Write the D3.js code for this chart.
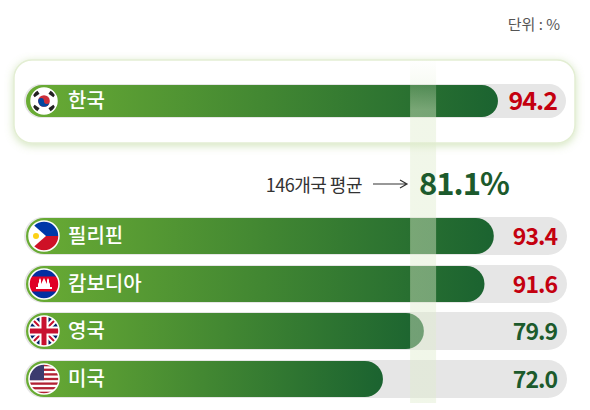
<!DOCTYPE html>
<html><head><meta charset="utf-8">
<script src="https://cdn.jsdelivr.net/npm/d3@7"></script>
<style>body{margin:0;background:#fff}text{font-family:"Noto Sans CJK KR","Noto Sans",sans-serif}</style>
</head><body><svg id="c" width="590" height="410"></svg>
<script>
const countries=["한국","필리핀","캄보디아","영국","미국"];
const values=[94.2,93.4,91.6,79.9,72.0];
const flags=["kr","ph","kh","gb","us"];
const average=81.1;
const avgLabel="146개국 평균";
const unitLabel="단위 : %";

const svg=d3.select("#c");
const x=d3.scaleLinear().domain([0,100]).range([10,528]);
const y=d3.scaleOrdinal().domain(countries).range([101,236,284,331,379]);
const defs=svg.append("defs");
const g=defs.append("linearGradient").attr("id","bar");
g.append("stop").attr("offset","0").attr("stop-color","#6aac34");
g.append("stop").attr("offset","1").attr("stop-color","#1b6330");
const bg=defs.append("linearGradient").attr("id","band").attr("x1",0).attr("x2",0).attr("y1",0).attr("y2",1);
bg.append("stop").attr("offset","0").attr("stop-color","#dfeccd").attr("stop-opacity",0);
bg.append("stop").attr("offset","0.15").attr("stop-color","#dfeccd").attr("stop-opacity",0.8);
bg.append("stop").attr("offset","1").attr("stop-color","#dfeccd").attr("stop-opacity",0.8);
const bh=defs.append("linearGradient").attr("id","bandh");
bh.append("stop").attr("offset","0").attr("stop-color","#fff").attr("stop-opacity",1);
bh.append("stop").attr("offset","1").attr("stop-color","#fff").attr("stop-opacity",0);
const f=defs.append("filter").attr("id","glow").attr("x","-10%").attr("y","-30%").attr("width","120%").attr("height","160%");
f.append("feDropShadow").attr("dx",0).attr("dy",2).attr("stdDeviation",4).attr("flood-color","#9cc36a").attr("flood-opacity",0.45);

svg.append("text").attr("x",560).attr("y",30).attr("text-anchor","end").attr("font-size",15).attr("fill","#555").text(unitLabel);

// highlight box
svg.append("rect").attr("x",14).attr("y",60).attr("width",561).attr("height",83).attr("rx",18)
 .attr("fill","#fff").attr("stroke","#e3eed3").attr("stroke-width",1.5).attr("filter","url(#glow)");

const rows=countries.map((c,i)=>({c,v:values[i],f:flags[i],top:i==0}));
const H=d=>d.top?34:38;
const trackX=d=>d.top?24:24, trackW=d=>d.top?542:543;

svg.selectAll(".track").data(rows).join("rect").attr("x",trackX).attr("width",trackW)
 .attr("y",d=>y(d.c)-H(d)/2).attr("height",H).attr("rx",d=>H(d)/2).attr("fill","#e6e6e6");
svg.selectAll(".bar").data(rows).join("rect").attr("x",26).attr("width",d=>x(d.v)-26)
 .attr("y",d=>y(d.c)-H(d)/2+1).attr("height",d=>H(d)-2).attr("rx",d=>(H(d)-2)/2).attr("fill","url(#bar)");

// average band
const ax=x(average)-20;
svg.append("rect").attr("x",ax).attr("y",58).attr("width",26).attr("height",345).attr("fill","url(#band)").attr("opacity",0.55);

// flags
rows.forEach((d,i)=>{
 const cx=44,cy=y(d.c),r=d.top?13:15;
 defs.append("clipPath").attr("id","cl"+i).append("circle").attr("cx",cx).attr("cy",cy).attr("r",r);
 const fg=svg.append("g").attr("clip-path","url(#cl"+i+")");
 const L=cx-r,T=cy-r,W=2*r;
 if(d.f=="kr"){
  fg.append("rect").attr("x",L).attr("y",T).attr("width",W).attr("height",W).attr("fill","#fff");
  fg.append("circle").attr("cx",cx).attr("cy",cy).attr("r",r*0.45).attr("fill","#cd2e3a");
  fg.append("path").attr("d",`M${cx-r*0.45},${cy} A${r*0.45},${r*0.45} 0 0 0 ${cx+r*0.45},${cy} A${r*0.225},${r*0.225} 0 0 1 ${cx},${cy} A${r*0.225},${r*0.225} 0 0 0 ${cx-r*0.45},${cy}Z`).attr("fill","#0047a0");
  [[-1,-1],[1,-1],[-1,1],[1,1]].forEach(([sx,sy])=>fg.append("rect").attr("x",cx+sx*r*0.62-3).attr("y",cy+sy*r*0.55-2).attr("width",6).attr("height",4).attr("fill","#222").attr("transform",`rotate(${sx*sy*-35},${cx+sx*r*0.62},${cy+sy*r*0.55})`));
 } else if(d.f=="ph"){
  fg.append("rect").attr("x",L).attr("y",T).attr("width",W).attr("height",r).attr("fill","#0038a8");
  fg.append("rect").attr("x",L).attr("y",cy).attr("width",W).attr("height",r).attr("fill","#ce1126");
  fg.append("path").attr("d",`M${L},${T} L${cx+2},${cy} L${L},${T+W}Z`).attr("fill","#fff");
  fg.append("circle").attr("cx",L+7).attr("cy",cy).attr("r",3).attr("fill","#fcd116");
 } else if(d.f=="kh"){
  fg.append("rect").attr("x",L).attr("y",T).attr("width",W).attr("height",W).attr("fill","#032ea1");
  fg.append("rect").attr("x",L).attr("y",T+W*0.25).attr("width",W).attr("height",W*0.5).attr("fill","#e00025");
  fg.append("path").attr("d",`M${cx-8},${cy+5}h16v-2h-2v-3l-1-2v-2l-1-2l-1 2v2l-1 2v-2l-2-4l-2 4v2l-1-2v-2l-1-2l-1 2v2l-1 2v3h-2z`).attr("fill","#fff");
 } else if(d.f=="gb"){
  fg.append("rect").attr("x",L).attr("y",T).attr("width",W).attr("height",W).attr("fill","#012169");
  fg.append("path").attr("d",`M${L},${T}L${L+W},${T+W}M${L+W},${T}L${L},${T+W}`).attr("stroke","#fff").attr("stroke-width",6);
  fg.append("path").attr("d",`M${L},${T}L${L+W},${T+W}M${L+W},${T}L${L},${T+W}`).attr("stroke","#c8102e").attr("stroke-width",2);
  fg.append("path").attr("d",`M${cx},${T}V${T+W}M${L},${cy}H${L+W}`).attr("stroke","#fff").attr("stroke-width",9);
  fg.append("path").attr("d",`M${cx},${T}V${T+W}M${L},${cy}H${L+W}`).attr("stroke","#c8102e").attr("stroke-width",5);
 } else {
  fg.append("rect").attr("x",L).attr("y",T).attr("width",W).attr("height",W).attr("fill","#fff");
  d3.range(7).forEach(k=>fg.append("rect").attr("x",L).attr("y",T+k*W/6.5).attr("width",W).attr("height",W/13).attr("fill","#b22234"));
  fg.append("rect").attr("x",L).attr("y",T).attr("width",W*0.5).attr("height",W*0.54).attr("fill","#3c3b6e");
 }
 svg.append("circle").attr("cx",cx).attr("cy",cy).attr("r",r).attr("fill","none").attr("stroke","#fff").attr("stroke-width",1.5);
});

svg.selectAll(".lab").data(rows).join("text").attr("x",68).attr("y",d=>y(d.c)+7).attr("font-size",20).attr("font-weight",500)
 .attr("fill","#fff").text(d=>d.c);
svg.selectAll(".val").data(rows).join("text").attr("x",557).attr("y",d=>y(d.c)+9).attr("text-anchor","end")
 .attr("font-size",d=>d.top?25:23).attr("font-weight",700).attr("letter-spacing",-1)
 .attr("fill",d=>d.v>average+5?"#c4000f":"#1c5a2c").text(d=>d.v.toFixed(1));

svg.append("text").attr("x",362).attr("y",192).attr("text-anchor","end").attr("font-size",18).attr("fill","#333").attr("letter-spacing",-0.5).text(avgLabel);
svg.append("path").attr("d","M373,184H406M400,180L407,184L400,188").attr("stroke","#333").attr("stroke-width",1.2).attr("fill","none");
svg.append("text").attr("x",419).attr("y",195).attr("font-size",31).attr("font-weight",700).attr("letter-spacing",-1).attr("fill","#1c5a2c").text(average.toFixed(1)+"%");
</script></body></html>
